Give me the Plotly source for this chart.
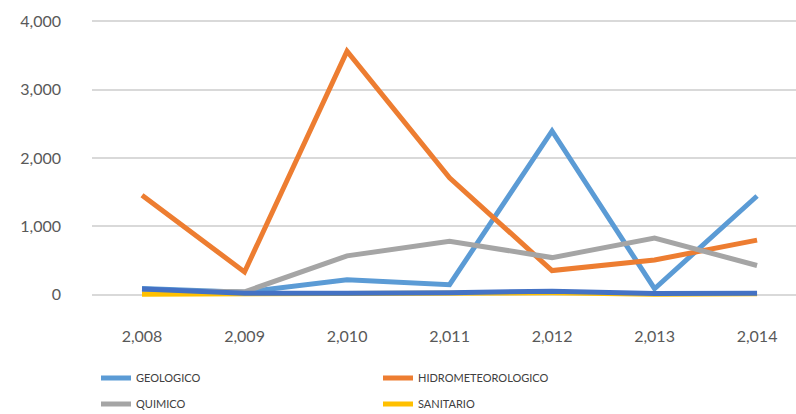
import plotly.graph_objects as go

# Years on the horizontal axis and their printed labels
years = [2008, 2009, 2010, 2011, 2012, 2013, 2014]
year_labels = ["2,008", "2,009", "2,010", "2,011", "2,012", "2,013", "2,014"]

# Events per year by origin
geologico = [95, 40, 220, 150, 2395, 90, 1445]
hidrometeorologico = [1455, 335, 3560, 1710, 355, 510, 800]
quimico = [60, 45, 570, 785, 545, 830, 430]
sanitario = [10, 15, 15, 20, 30, 10, 15]
tecnologico = [85, 25, 25, 30, 55, 20, 25]

y_ticks = [0, 1000, 2000, 3000, 4000]
y_tick_labels = ["0", "1,000", "2,000", "3,000", "4,000"]

series = [
    ("GEOLOGICO", geologico, "#5B9BD5", "legend", True),
    ("HIDROMETEOROLOGICO", hidrometeorologico, "#ED7D31", "legend2", True),
    ("QUIMICO", quimico, "#A5A5A5", "legend3", True),
    ("SANITARIO", sanitario, "#FFC000", "legend4", True),
    ("TECNOLOGICO", tecnologico, "#4472C4", "legend", False),
]

fig = go.Figure()
for name, values, color, leg, show in series:
    fig.add_trace(go.Scatter(
        x=years, y=values, name=name, mode="lines",
        line=dict(color=color, width=5),
        legend=leg, showlegend=show,
    ))

tick_font = dict(family="Lato, Open Sans, sans-serif", size=16, color="#595959")
legend_font = dict(family="Lato, sans-serif", size=11, color="#404040")

W, H = 796, 414


def legend_box(px, py):
    return dict(
        xref="container", yref="container",
        x=px / W, y=1 - py / H, xanchor="left", yanchor="middle",
        bgcolor="rgba(0,0,0,0)", font=legend_font, itemwidth=30,
    )


fig.update_layout(
    width=W, height=H,
    margin=dict(l=92, r=0, t=17, b=115, autoexpand=False),
    paper_bgcolor="white", plot_bgcolor="white",
    showlegend=True,
    legend=legend_box(96, 378),
    legend2=legend_box(378, 378),
    legend3=legend_box(96, 404),
    legend4=legend_box(378, 404),
    xaxis=dict(
        range=[2007.512, 2014.38],
        tickvals=years, ticktext=year_labels, tickangle=0,
        showgrid=False, zeroline=False, showline=False, automargin=False,
        ticks="", tickfont=tick_font, ticklabelstandoff=26,
    ),
    yaxis=dict(
        range=[-60, 4060],
        tickvals=y_ticks, ticktext=y_tick_labels,
        showgrid=True, gridcolor="#D9D9D9", gridwidth=2,
        zeroline=False, showline=False, automargin=False,
        ticks="", tickfont=tick_font, ticklabelstandoff=30,
    ),
)

fig.write_html("out.html")
